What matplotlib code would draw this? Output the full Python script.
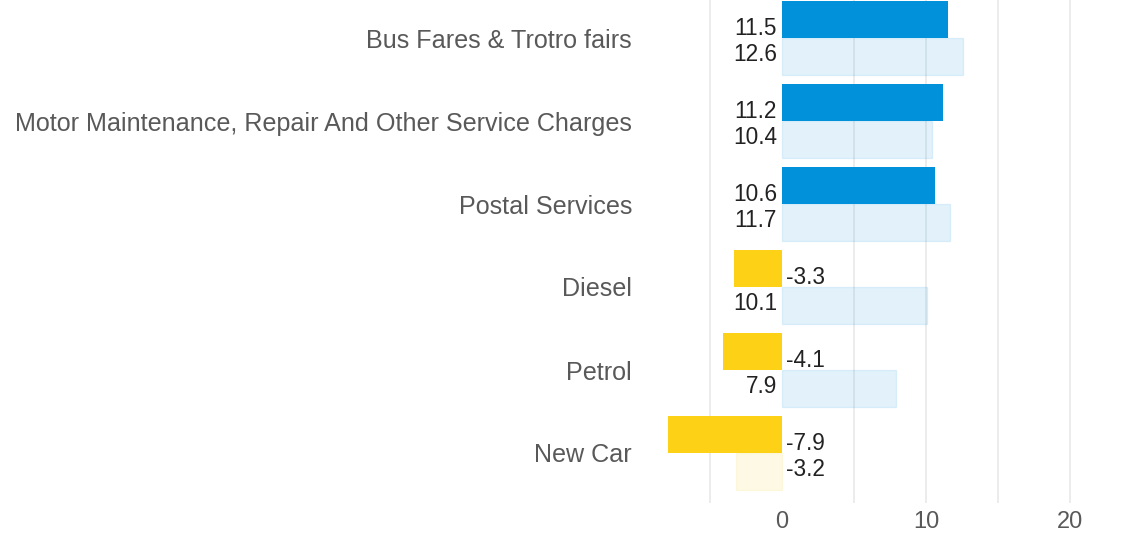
import matplotlib
matplotlib.use("Agg")
import matplotlib.pyplot as plt
import numpy as np

# =============================================================================
# DATA
# =============================================================================

categories = [
    "Bus Fares & Trotro fairs",
    "Motor Maintenance, Repair And Other Service Charges",
    "Postal Services",
    "Diesel",
    "Petrol",
    "New Car",
]
current = [11.5, 11.2, 10.6, -3.3, -4.1, -7.9]
previous = [12.6, 10.4, 11.7, 10.1, 7.9, -3.2]
x_ticks = [0, 10, 20]
grid_at = [-5, 5, 10, 15, 20]

# =============================================================================
# STYLE
# =============================================================================

BLUE = "#0091DA"
YELLOW = "#FDD116"
GRID = "#E9E9E9"
CAT_TEXT = "#595959"
VAL_TEXT = "#222222"

plt.rcParams["font.family"] = ["Liberation Sans", "DejaVu Sans"]

fig = plt.figure(figsize=(11.4, 5.35), dpi=100)
ax = fig.add_axes([650 / 1140, 32 / 535, 490 / 1140, 503 / 535])

y = np.arange(len(categories))
h = 0.44

for yi, cur, prev in zip(y, current, previous):
    c_col = BLUE if cur >= 0 else YELLOW
    p_col = BLUE if prev >= 0 else YELLOW
    ax.barh(yi - h / 2, cur, height=h, color=c_col, edgecolor="none", zorder=2)
    ax.barh(yi + h / 2, prev, height=h, color=p_col, alpha=0.11,
            edgecolor=p_col, linewidth=1.0, zorder=3)

    # value labels sit on the opposite side of zero
    for val, off in ((cur, -h / 2 + 0.1), (prev, h / 2 - 0.02)):
        if val >= 0:
            ax.text(-0.35, yi + off, f"{val:.1f}", ha="right", va="center",
                    fontsize=16.3, color=VAL_TEXT, zorder=4)
        else:
            ax.text(0.3, yi + off, f"{val:.1f}", ha="left", va="center",
                    fontsize=16.3, color=VAL_TEXT, zorder=4)

for g in grid_at:
    ax.axvline(g, color=GRID, linewidth=1.2, zorder=1)

ax.set_xlim(-(782 - 650) / 14.4, (1140 - 782) / 14.4)
ax.set_ylim(5 + 50 / 83, -38 / 83)

ax.set_yticks(y)
ax.set_yticklabels(categories, fontsize=18.1, color=CAT_TEXT)
ax.set_xticks(x_ticks)
ax.set_xticklabels([str(t) for t in x_ticks], fontsize=17, color=CAT_TEXT)
ax.tick_params(axis="y", length=0, pad=13)
ax.tick_params(axis="x", length=0, pad=6)

for s in ax.spines.values():
    s.set_visible(False)

fig.savefig("out.png", dpi=100, facecolor="white")
